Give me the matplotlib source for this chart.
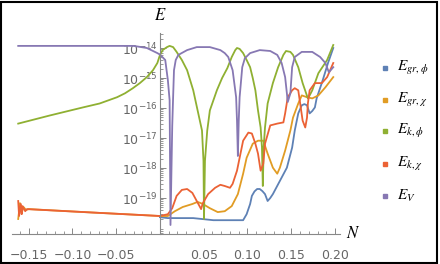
import matplotlib

matplotlib.use("Agg")
import matplotlib.pyplot as plt
import numpy as np
from matplotlib.lines import Line2D
from matplotlib.patches import Rectangle
from matplotlib.ticker import FixedLocator, LogLocator, NullFormatter

plt.rcParams["mathtext.fontset"] = "stix"

# values: N and log10(E)
n_gr_phi = [0.0, 0.009, 0.038, 0.061, 0.095, 0.099, 0.103, 0.105, 0.108, 0.111, 0.114, 0.117,
            0.120, 0.123, 0.126, 0.129, 0.137, 0.145, 0.151, 0.154, 0.158, 0.162, 0.165,
            0.168, 0.171, 0.174, 0.177, 0.179, 0.186, 0.192, 0.198]
loge_gr_phi = [-19.64, -19.67, -19.67, -19.74, -19.74, -19.54, -19.20, -18.93, -18.78, -18.70,
               -18.70, -18.77, -18.87, -19.10, -19.00, -18.87, -18.43, -17.99, -17.32, -16.75,
               -16.18, -15.91, -15.87, -15.91, -16.18, -16.10, -15.98, -15.68, -15.07, -14.50,
               -14.00]

n_gr_chi = [-0.162, -0.160, -0.158, -0.156, -0.153, -0.150, -0.08, 0.0, 0.009, 0.017, 0.026,
            0.037, 0.043, 0.049, 0.057, 0.066, 0.074, 0.082, 0.089, 0.095, 0.099, 0.106,
            0.112, 0.118, 0.123, 0.129, 0.134, 0.137, 0.143, 0.149, 0.152, 0.158, 0.162,
            0.168, 0.174, 0.181, 0.189, 0.198]
loge_gr_chi = [-19.70, -19.17, -19.50, -19.30, -19.40, -19.37, -19.48, -19.60, -19.60, -19.44,
               -19.30, -19.20, -19.13, -19.20, -19.34, -19.47, -19.44, -19.27, -18.87, -18.19,
               -17.66, -17.19, -17.09, -17.09, -17.52, -17.99, -18.19, -17.99, -17.42, -16.75,
               -16.32, -15.85, -15.58, -15.64, -15.68, -15.58, -15.31, -14.97]

n_k_phi = [-0.162, -0.126, -0.088, -0.069, -0.049, -0.040, -0.031, -0.023, -0.015, -0.008,
           -0.003, 0.0, 0.003, 0.008, 0.011,
           0.015, 0.019, 0.025, 0.031, 0.038, 0.043, 0.048, 0.0497, 0.0503, 0.0514, 0.054,
           0.057, 0.065, 0.071, 0.077, 0.082, 0.086, 0.088, 0.091, 0.095, 0.099, 0.103,
           0.106, 0.109, 0.112, 0.115, 0.1165, 0.1175, 0.1185, 0.120, 0.123, 0.129, 0.135,
           0.141, 0.144, 0.149, 0.152, 0.158, 0.163, 0.167, 0.169, 0.171, 0.174, 0.181,
           0.191, 0.198]
loge_k_phi = [-16.52, -16.25, -15.98, -15.85, -15.64, -15.51, -15.34, -15.17, -14.97, -14.74,
              -14.50, -14.23, -14.07, -13.97,
              -13.93, -13.97, -14.13, -14.40, -14.74, -15.41, -16.08, -16.75, -17.76, -19.70,
              -17.76, -16.75, -16.08, -15.41, -15.00, -14.67, -14.30, -14.07, -14.00, -14.03,
              -14.17, -14.40, -14.64, -15.00, -15.41, -16.08, -16.65, -17.30, -18.60, -17.30,
              -16.65, -15.85, -15.17, -14.64, -14.23, -14.10, -14.13, -14.23, -14.64, -15.17,
              -15.51, -15.68, -15.58, -15.41, -14.84, -14.40, -13.90]

n_k_chi = [-0.162, -0.161, -0.159, -0.158, -0.157, -0.154, -0.152, -0.08, 0.0, 0.009, 0.014,
           0.019, 0.025, 0.031, 0.037, 0.042, 0.047, 0.049, 0.055, 0.063, 0.069, 0.074,
           0.080, 0.083, 0.088, 0.091, 0.095, 0.101, 0.105, 0.109, 0.112, 0.115, 0.118,
           0.120, 0.126, 0.134, 0.141, 0.143, 0.146, 0.151, 0.154, 0.158, 0.160, 0.163,
           0.166, 0.168, 0.169, 0.171, 0.177, 0.185, 0.191, 0.198]
loge_k_chi = [-19.10, -19.60, -19.20, -19.54, -19.27, -19.44, -19.37, -19.48, -19.60, -19.54,
              -19.34, -18.93, -18.73, -18.70, -18.83, -19.10, -19.37, -19.17, -18.87, -18.66,
              -18.56, -18.60, -18.66, -18.53, -18.09, -17.66, -17.09, -16.82, -16.85, -17.19,
              -17.52, -18.09, -17.86, -17.19, -16.58, -16.52, -16.48, -16.18, -15.64, -15.41,
              -15.34, -15.41, -15.81, -16.42, -16.65, -16.32, -15.85, -15.41, -15.17, -15.17,
              -14.97, -14.50]

n_v = [-0.162, -0.030, -0.015, -0.003, 0.0, 0.006, 0.009, 0.011, 0.012, 0.014, 0.015, 0.016,
       0.018, 0.021, 0.031, 0.042, 0.057, 0.069, 0.074, 0.078, 0.083, 0.087, 0.088, 0.089,
       0.090, 0.091, 0.094, 0.097, 0.103, 0.114, 0.126, 0.134, 0.139, 0.143, 0.145, 0.146,
       0.149, 0.151, 0.154, 0.162, 0.174, 0.183, 0.189, 0.193, 0.198]
loge_v = [-13.93, -13.93, -14.00, -14.17, -14.22, -14.40, -15.07, -15.74, -19.90, -16.60,
          -15.64, -14.74, -14.40, -14.23, -14.07, -13.97, -13.97, -14.07, -14.17, -14.30,
          -14.74, -15.64, -16.42, -17.60, -16.42, -15.64, -14.64, -14.34, -14.17, -14.07,
          -14.10, -14.23, -14.50, -14.97, -15.51, -15.80, -15.51, -14.64, -14.30, -14.13,
          -14.13, -14.30, -14.50, -14.81, -14.64]

labels = [r"$E_{gr,\phi}$", r"$E_{gr,\chi}$", r"$E_{k,\phi}$", r"$E_{k,\chi}$", r"$E_V$"]
colors = ["#5E81B5", "#E19C24", "#8FB032", "#EB6235", "#8778B3"]
series = [(n_gr_phi, loge_gr_phi), (n_gr_chi, loge_gr_chi), (n_k_phi, loge_k_phi),
          (n_k_chi, loge_k_chi), (n_v, loge_v)]

fig = plt.figure(figsize=(4.4, 2.64), dpi=100)
ax = fig.add_axes([12 / 440, 30 / 264, 328 / 440, 201 / 264])

for (n, le), c in zip(series, colors):
    ax.plot(n, 10.0 ** np.array(le), color=c, lw=1.3)

ax.set_yscale("log")
ax.set_xlim(-0.1691, 0.2057)
ax.set_ylim(10 ** -20.2, 10 ** -13.5)

gray = "#666666"
ax.spines["left"].set_position(("data", 0))
ax.spines["top"].set_visible(False)
ax.spines["right"].set_visible(False)
for s in ("left", "bottom"):
    ax.spines[s].set_color("#888888")
    ax.spines[s].set_linewidth(0.8)

xt = [-0.15, -0.10, -0.05, 0.05, 0.10, 0.15, 0.20]
ax.set_xticks(xt)
ax.set_xticklabels([f"{v:.2f}".replace("-", "\u2212") for v in xt])
ax.xaxis.set_minor_locator(FixedLocator(np.arange(-0.16, 0.205, 0.01)))
ax.yaxis.set_major_locator(FixedLocator([10.0 ** k for k in range(-19, -13)]))
ax.yaxis.set_minor_locator(LogLocator(base=10, subs=np.arange(2, 10), numticks=20))
ax.yaxis.set_minor_formatter(NullFormatter())
ax.tick_params(axis="both", which="major", direction="in", length=4, width=0.7,
               color="#888888", labelcolor=gray, labelsize=9)
ax.tick_params(axis="both", which="minor", direction="in", length=2, width=0.6,
               color="#888888")
ax.tick_params(axis="x", pad=11)
ax.tick_params(axis="y", pad=1.5)

fig.text(160 / 440, 1 - 15 / 264, "$E$", fontsize=12, ha="center", va="center")
fig.text(353 / 440, 1 - 233 / 264, "$N$", fontsize=12, ha="center", va="center")

ys = [68, 100, 131, 164, 196]
for lab, c, y in zip(labels, colors, ys):
    fig.add_artist(Line2D([385 / 440], [1 - y / 264], marker="s", markersize=2.2,
                          color=c, transform=fig.transFigure))
    fig.text(397 / 440, 1 - y / 264, lab, fontsize=11, va="center", ha="left")

fig.add_artist(Rectangle((1 / 440, 1.5 / 264), 436 / 440, 261 / 264, fill=False,
                         edgecolor="black", lw=1.5, transform=fig.transFigure))

fig.savefig("out.png", dpi=100)
